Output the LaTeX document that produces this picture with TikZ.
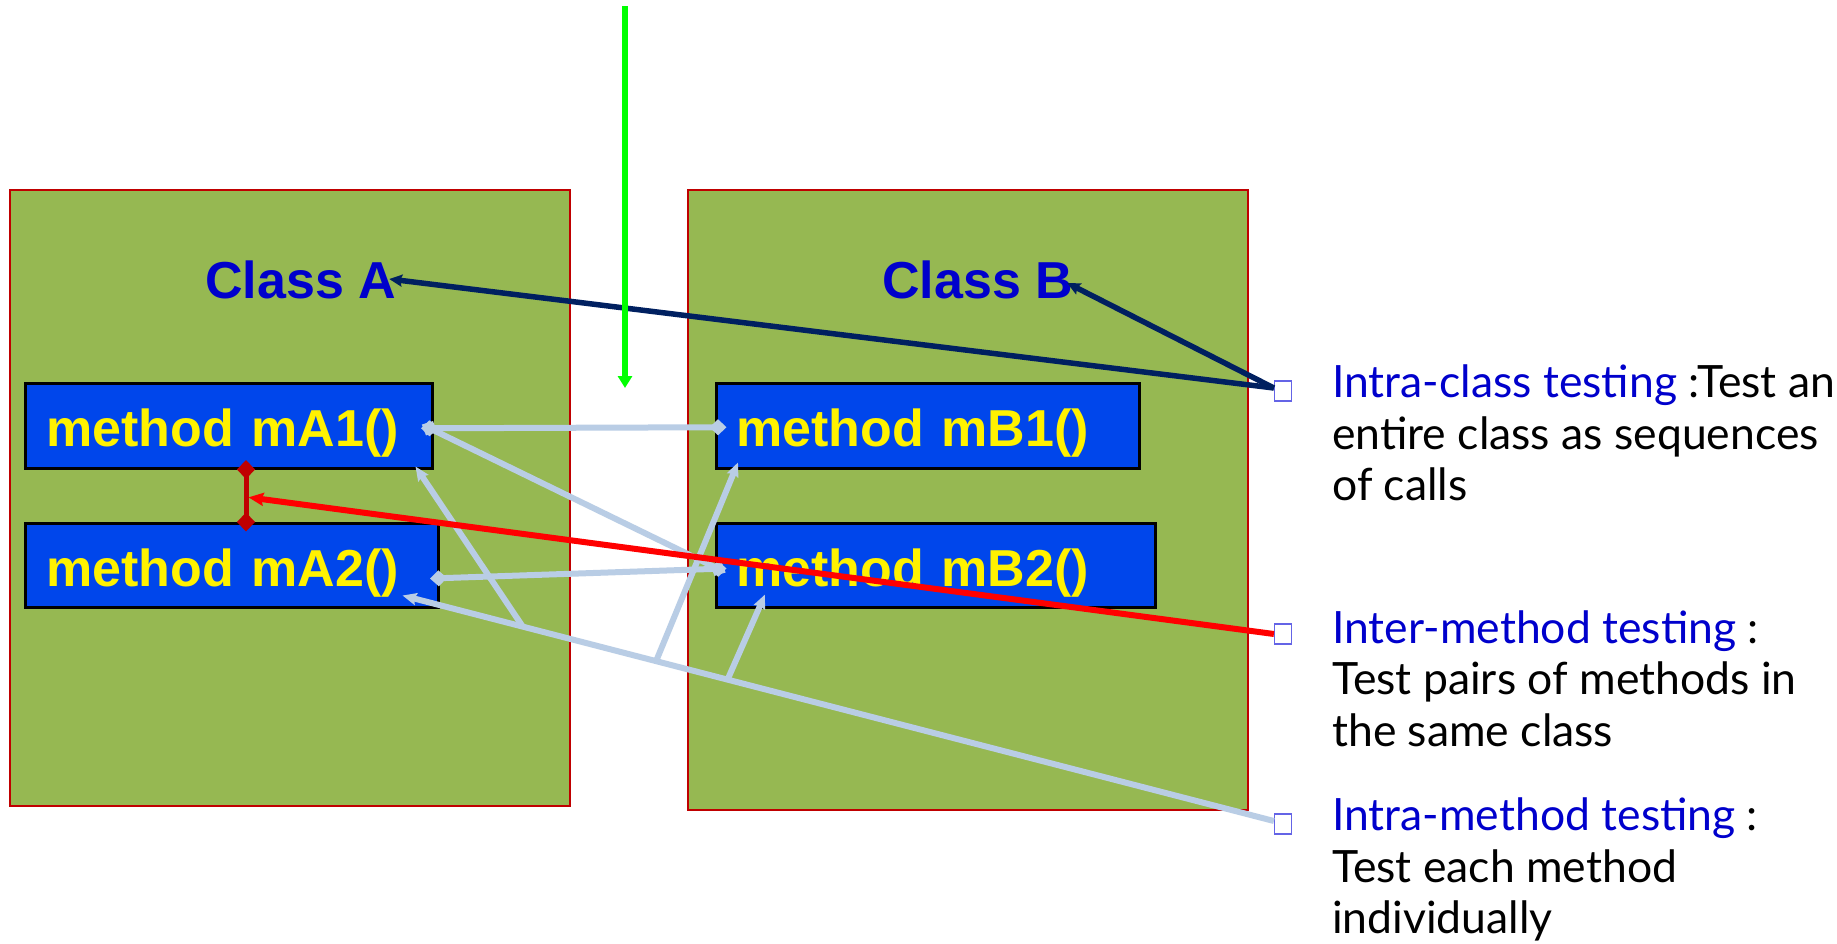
\documentclass[tikz,border=0pt]{standalone}
\usepackage{fontspec}
\usetikzlibrary{arrows.meta,calc}
\newfontfamily\headfont{Liberation Sans}
\newfontfamily\notefont{Lato}
\definecolor{classfill}{RGB}{150,184,82}
\definecolor{classedge}{RGB}{192,0,0}
\definecolor{methfill}{RGB}{0,70,235}
\definecolor{titleblue}{RGB}{0,0,204}
\definecolor{navyline}{RGB}{0,32,96}
\definecolor{callblue}{RGB}{185,205,229}
\definecolor{pairred}{RGB}{192,0,0}
\definecolor{brightred}{RGB}{255,0,0}
\definecolor{brightgreen}{RGB}{0,255,0}
\definecolor{bulletedge}{RGB}{100,100,230}
\begin{document}
\begin{tikzpicture}[x=1pt,y=-1pt,
  classbox/.style={draw=classedge,line width=1.5pt,fill=classfill,anchor=north west,inner sep=0pt},
  methbox/.style={draw=black,line width=2.5pt,fill=methfill,anchor=north west,
    inner xsep=21pt,inner ysep=0pt,text height=50pt,text depth=8pt,align=left,
    text=yellow,font=\headfont\bfseries\fontsize{52}{60}\selectfont},
  classtitle/.style={anchor=base west,inner sep=0pt,text=titleblue,
    font=\headfont\bfseries\fontsize{52}{60}\selectfont},
  bulletbox/.style={draw=bulletedge,line width=1.2pt,
    minimum width=17pt,minimum height=20pt,inner sep=0pt},
  noteline/.style={anchor=base west,inner sep=0pt,
    font=\notefont\fontsize{44.5}{52}\selectfont},
  callline/.style={draw=callblue,line width=6pt},
  calltip/.style={-{Stealth[length=14pt,width=12pt,inset=2pt]}},
  callpair/.style={{Diamond[length=17pt,width=16pt]}-{Diamond[length=17pt,width=16pt]},
    shorten <=-8.5pt,shorten >=-8.5pt},
]
\useasboundingbox (0,0) rectangle (1837,943);
\fill[white] (0,0) rectangle (1837,943);

% the two classes
\node[classbox,minimum width=560pt,minimum height=616pt] (boxA) at (9,189) {};
\node[classbox,minimum width=560pt,minimum height=620pt] (boxB) at (687,189) {};
\node[classtitle] (clsA) at (205,298) {Class A};
\node[classtitle] (clsB) at (882,298) {Class B};

% methods
\node[methbox,minimum width=407pt,minimum height=85pt,text width=365pt] (mA1) at (24,382) {method mA1()};
\node[methbox,minimum width=413pt,minimum height=84pt,text width=371pt] (mA2) at (24,522) {method mA2()};
\node[methbox,minimum width=423pt,minimum height=85pt,text width=383pt,inner xsep=20pt] (mB1) at (715,382) {method mB1()};
\node[methbox,minimum width=439pt,minimum height=84pt,text width=399pt,inner xsep=20pt] (mB2) at (715,522) {method mB2()};

% bullets of the notes
\node[bulletbox] (b1) at (1283,391) {};
\node[bulletbox] (b2) at (1283,634) {};
\node[bulletbox] (b3) at (1283,824) {};

% notes
\node[noteline] (n1a) at (1332,397) {\textcolor{titleblue}{Intra-class testing} :Test an};
\node[noteline] (n1b) at (1332,449) {entire class as sequences};
\node[noteline] (n1c) at (1332,500) {of calls};
\node[noteline] (n2a) at (1332,643) {\textcolor{titleblue}{Inter-method testing} :};
\node[noteline] (n2b) at (1332,694.5) {Test pairs of methods in};
\node[noteline] (n2c) at (1332,746) {the same class};
\node[noteline] (n3a) at (1332,830) {\textcolor{titleblue}{Intra-method testing} :};
\node[noteline] (n3b) at (1332,882) {Test each method};
\node[noteline] (n3c) at (1332,933) {individually};

% calls between methods of different classes
\draw[callline,callpair] ([xshift=-4pt,yshift=-2.5pt]mA1.east) -- ([xshift=3pt,yshift=-1.5pt]mB1.west);
\draw[callline,callpair] ([xshift=-4pt,yshift=-2.5pt]mA1.east) -- ([xshift=3pt,yshift=-3.5pt]mB2.west);
\draw[callline,callpair] ([xshift=-1pt,yshift=-13pt]mA2.east) -- ([xshift=3pt,yshift=-3.5pt]mB2.west);

% intra-method testing: one trunk with branches to each method
\coordinate (tA1) at ([xshift=-18pt,yshift=3pt]mA1.south east);
\coordinate (tA2) at ([xshift=-37pt,yshift=13pt]mA2.south east);
\coordinate (tB1) at ([xshift=23pt,yshift=7pt]mB1.south west);
\coordinate (tB2) at ([xshift=50pt,yshift=14pt]mB2.south west);
\coordinate (s3) at ([yshift=3pt]b3.west);
\path (s3) -- (tA2) coordinate[pos=0.862] (j1) coordinate[pos=0.709] (j2) coordinate[pos=0.627] (j3);
\draw[callline,calltip] (s3) -- (tA2);
\draw[callline,calltip] (j1) -- (tA1);
\draw[callline,calltip] (j2) -- (tB1);
\draw[callline,calltip] (j3) -- (tB2);

% inter-method testing: pair mA1 / mA2
\coordinate (p1) at ([xshift=222pt]mA1.south west);
\coordinate (p2) at ([xshift=222pt]mA2.north west);
\draw[pairred,line width=5pt,{Diamond[length=19pt,width=18pt]}-{Diamond[length=19pt,width=18pt]},
  shorten <=-9.5pt,shorten >=-9.5pt] (p1) -- (p2);
\coordinate (rtip) at ($(p1)!0.53!(p2)+(2.5,0)$);
\draw[brightred,line width=6pt,-{Stealth[length=15pt,width=13pt,inset=2pt]}] (b2.west) -- (rtip);

% intra-class testing
\coordinate (s1) at ([yshift=3pt]b1.west);
\draw[navyline,line width=5.5pt,-{Stealth[length=13pt,width=12pt,inset=2pt]}] (s1) -- ([xshift=-7pt,yshift=19pt]clsA.base east);
\draw[navyline,line width=5.5pt,-{Stealth[length=13pt,width=12pt,inset=2pt]}] (s1) -- ([xshift=-6pt,yshift=15pt]clsB.base east);

% incoming arrow from above
\coordinate (gtop) at (625,6);
\coordinate (gend) at (625,388);
\draw[brightgreen,line width=6pt,-{Triangle[length=12pt,width=14pt]}] (gtop) -- (gend);
\end{tikzpicture}
\end{document}
